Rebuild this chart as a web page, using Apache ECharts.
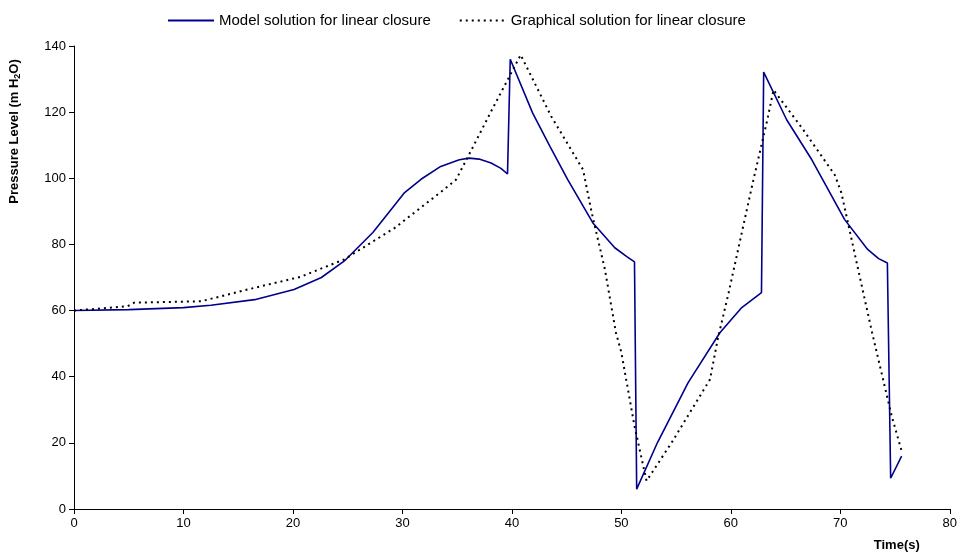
<!DOCTYPE html>
<html><head><meta charset="utf-8">
<script src="https://cdn.jsdelivr.net/npm/echarts@6/dist/echarts.min.js"></script>
<style>html,body{margin:0;padding:0;background:#fff}#c{width:960px;height:552px}</style>
</head><body><div id="c"></div>
<script>
const seriesNames = ['Model solution for linear closure', 'Graphical solution for linear closure'];
const xTicks = [0, 10, 20, 30, 40, 50, 60, 70, 80];
const yTicks = [0, 20, 40, 60, 80, 100, 120, 140];
const modelTime = [0, 5, 10, 12.5, 16.5, 20.1, 22.6, 24.7, 27.3, 28.5, 30.2, 31.7, 33.5, 35.2, 36.1, 37, 38.1, 39, 39.6, 39.85, 41.9, 43.5, 45.1, 47.4, 49.4, 50.5, 51.2, 51.4, 53.3, 56.1, 59, 61, 62.8, 63.0, 65.1, 67.4, 70.4, 72.5, 73.5, 74.3, 74.6, 75.6];
const modelPressure = [60, 60.3, 60.9, 61.6, 63.3, 66.4, 70, 75, 83.6, 88.6, 95.7, 99.7, 103.6, 105.6, 106.1, 105.8, 104.6, 103, 101.3, 136, 119.7, 109.5, 99.6, 86.5, 79, 76.3, 74.7, 6, 20.1, 38.2, 53.3, 60.9, 65.4, 132.1, 117.7, 105.6, 87.5, 78.5, 75.7, 74.4, 9.3, 16];
const graphTime = [0, 4.9, 5.5, 11.6, 16.5, 20.7, 24.7, 29.3, 33.8, 34.9, 36, 38.1, 40.8, 43.6, 46.5, 47.3, 48.5, 49.5, 50, 51.2, 52.3, 54.6, 58.1, 58.8, 59.8, 62, 63.3, 63.9, 66.5, 69.5, 70.1, 71.8, 72.9, 74.7, 75.6];
const graphPressure = [60, 61.3, 62.4, 62.8, 66.9, 70.2, 75.5, 85, 96.6, 99.6, 106.6, 120.2, 137.3, 118.7, 102.6, 89.5, 72.4, 53.4, 47.3, 25.1, 8.5, 20.1, 39.2, 51.3, 65.4, 98.6, 117.2, 126.7, 115.2, 101, 95.6, 69.9, 53.4, 28, 17.6];

const chart = echarts.init(document.getElementById('c'));
const zip = (a, b) => a.map((v, i) => [v, b[i]]);
const font = 'Liberation Sans, Arial, sans-serif';
chart.setOption({
  animation: false,
  textStyle: { fontFamily: font },
  legend: {
    top: 8, left: 162,
    itemWidth: 46, itemHeight: 10, itemGap: 28,
    itemStyle: { opacity: 0 },
    textStyle: { fontSize: 15, color: '#000', fontFamily: font },
    data: seriesNames
  },
  grid: { left: 73, right: 9, top: 46, bottom: 42 },
  xAxis: {
    type: 'value', min: xTicks[0], max: xTicks[xTicks.length - 1], interval: 10,
    name: 'Time(s)', nameLocation: 'end', nameGap: -30,
    nameTextStyle: { fontWeight: 'bold', fontSize: 13, color: '#000', align: 'right', verticalAlign: 'top', padding: [30, 0, 0, 0] },
    axisLine: { lineStyle: { color: '#000', width: 1 } },
    axisTick: { lineStyle: { color: '#000' }, length: 5 },
    axisLabel: { color: '#000', fontSize: 13, margin: 8 },
    splitLine: { show: false }
  },
  yAxis: {
    type: 'value', min: yTicks[0], max: yTicks[yTicks.length - 1], interval: 20,
    name: '{a|Pressure Level (m H}{s|2}{a|O)}', nameLocation: 'middle', nameGap: 52, nameRotate: 90,
    nameTextStyle: {
      padding: [0, 0, 0, 292],
      rich: {
        a: { fontWeight: 'bold', fontSize: 13, color: '#000', fontFamily: font },
        s: { fontWeight: 'bold', fontSize: 9, color: '#000', fontFamily: font, padding: [6, 0, 0, 0] }
      }
    },
    axisLine: { show: true, lineStyle: { color: '#000', width: 1 } },
    axisTick: { show: true, lineStyle: { color: '#000' }, length: 5 },
    axisLabel: { color: '#000', fontSize: 13, margin: 8 },
    splitLine: { show: false }
  },
  series: [
    { name: seriesNames[0], type: 'line', data: zip(modelTime, modelPressure), symbol: 'none', smooth: false,
      lineStyle: { color: '#00008B', width: 1.6 }, itemStyle: { color: '#00008B' } },
    { name: seriesNames[1], type: 'line', data: zip(graphTime, graphPressure), symbol: 'none', smooth: false,
      lineStyle: { color: '#000', width: 2, type: [2, 4] }, itemStyle: { color: '#000' } }
  ]
});
</script></body></html>
